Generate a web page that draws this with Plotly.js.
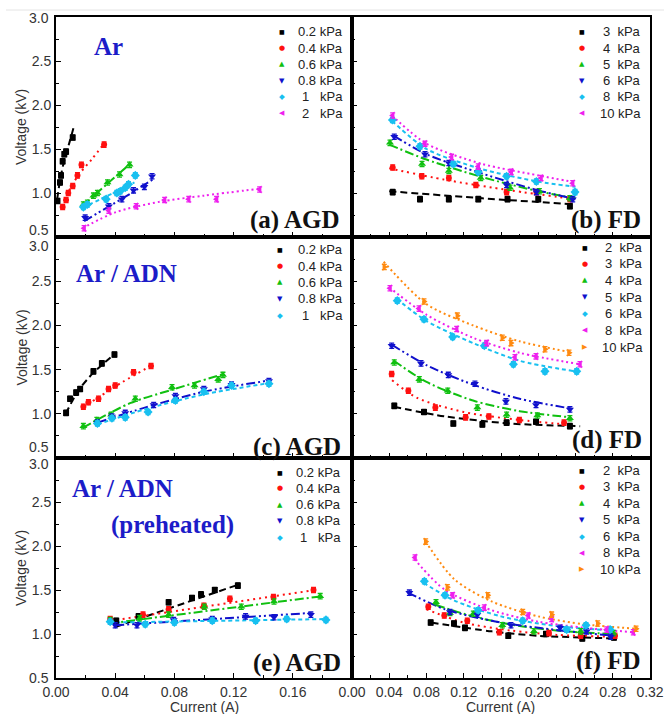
<!DOCTYPE html>
<html><head><meta charset="utf-8">
<script src="https://cdn.plot.ly/plotly-3.0.1.min.js"></script>
<style>html,body{margin:0;padding:0;background:#fff}#chart{width:664px;height:714px}</style>
</head><body><div id="chart"></div>
<script>
// ---------------- DATA ----------------
// (a) Ar, AGD
const aLabels = ['0.2 kPa','0.4 kPa','0.6 kPa','0.8 kPa','1   kPa','2   kPa'];
const aCurrent = [
  [0.001, 0.0027, 0.0034, 0.0045, 0.0056, 0.0068, 0.0113],
  [0.0045, 0.0068, 0.0083, 0.0113, 0.0145, 0.0172, 0.0325],
  [0.0185, 0.0212, 0.0253, 0.028, 0.0348, 0.0429, 0.0497],
  [0.0197, 0.0357, 0.0445, 0.0524, 0.0597, 0.0649],
  [0.0185, 0.0212, 0.0339, 0.0411, 0.0434, 0.0468, 0.049, 0.0536],
  [0.019, 0.0357, 0.0542, 0.0734, 0.0897, 0.1085, 0.1376]
];
const aVoltage = [
  [0.91, 1.12, 1.20, 1.36, 1.44, 1.47, 1.63],
  [0.84, 0.92, 1.00, 1.08, 1.20, 1.32, 1.55],
  [0.87, 0.89, 0.97, 1.00, 1.12, 1.21, 1.32],
  [0.72, 0.85, 0.93, 1.03, 1.07, 1.19],
  [0.84, 0.87, 0.93, 1.00, 1.02, 1.06, 1.10, 1.20],
  [0.60, 0.80, 0.85, 0.92, 0.93, 0.93, 1.04]
];
const aFitCurrent = [
  [0.0008, 0.003, 0.006, 0.009, 0.012],
  [0.004, 0.008, 0.015, 0.024, 0.032],
  [0.018, 0.025, 0.035, 0.05],
  [0.019, 0.035, 0.05, 0.066],
  [0.018, 0.03, 0.045, 0.053],
  [0.018, 0.04, 0.07, 0.1, 0.138]
];
const aFitVoltage = [
  [0.93, 1.17, 1.40, 1.57, 1.75],
  [0.84, 1.00, 1.20, 1.38, 1.55],
  [0.85, 0.96, 1.11, 1.33],
  [0.68, 0.84, 0.99, 1.16],
  [0.83, 0.93, 1.05, 1.12],
  [0.60, 0.78, 0.90, 0.97, 1.05]
];

// (b) Ar, FD
const bLabels = ['3  kPa','4  kPa','5  kPa','6  kPa','8  kPa','10 kPa'];
const bCurrent = [
  [0.0437, 0.073, 0.104, 0.1356, 0.167, 0.200, 0.234],
  [0.0437, 0.075, 0.104, 0.133, 0.166, 0.198, 0.234],
  [0.0408, 0.0752, 0.104, 0.1382, 0.1697, 0.2012, 0.234],
  [0.0454, 0.0784, 0.104, 0.1356, 0.166, 0.198, 0.237],
  [0.0434, 0.073, 0.1088, 0.1356, 0.166, 0.198, 0.2395],
  [0.0437, 0.0784, 0.107, 0.1356, 0.171, 0.203, 0.237]
];
const bVoltage = [
  [1.01, 0.93, 0.93, 0.93, 0.93, 0.93, 0.85],
  [1.29, 1.19, 1.17, 1.09, 1.01, 1.01, 0.93],
  [1.57, 1.33, 1.25, 1.17, 1.06, 1.02, 0.94],
  [1.64, 1.44, 1.34, 1.24, 1.09, 1.01, 0.93],
  [1.83, 1.53, 1.33, 1.24, 1.19, 1.13, 1.01],
  [1.88, 1.56, 1.41, 1.30, 1.24, 1.17, 1.11]
];
const bFitCurrent = [
  [0.04, 0.14, 0.24],
  [0.04, 0.10, 0.17, 0.24],
  [0.04, 0.08, 0.14, 0.20, 0.24],
  [0.045, 0.08, 0.14, 0.20, 0.24],
  [0.043, 0.08, 0.14, 0.20, 0.24],
  [0.043, 0.08, 0.14, 0.20, 0.24]
];
const bFitVoltage = [
  [1.02, 0.94, 0.87],
  [1.28, 1.15, 1.03, 0.93],
  [1.55, 1.38, 1.18, 1.02, 0.94],
  [1.65, 1.44, 1.22, 1.03, 0.93],
  [1.82, 1.50, 1.27, 1.13, 1.07],
  [1.88, 1.56, 1.33, 1.20, 1.12]
];

// (c) Ar / ADN, AGD
const cLabels = ['0.2 kPa','0.4 kPa','0.6 kPa','0.8 kPa','1   kPa'];
const cCurrent = [
  [0.0068, 0.0095, 0.0136, 0.0163, 0.0253, 0.031, 0.0395],
  [0.0185, 0.0219, 0.0287, 0.0355, 0.040, 0.0524, 0.0642],
  [0.0185, 0.0276, 0.0373, 0.0536, 0.0784, 0.0936, 0.1096, 0.1128],
  [0.028, 0.0378, 0.0468, 0.066, 0.0807, 0.0999, 0.1186, 0.1439],
  [0.028, 0.0378, 0.0468, 0.0622, 0.0807, 0.0999, 0.1186, 0.1439]
];
const cVoltage = [
  [1.01, 1.17, 1.24, 1.28, 1.48, 1.57, 1.67],
  [1.08, 1.13, 1.17, 1.28, 1.32, 1.47, 1.54],
  [0.86, 0.93, 0.99, 1.17, 1.30, 1.32, 1.39, 1.44],
  [0.90, 0.97, 1.01, 1.10, 1.20, 1.28, 1.33, 1.37],
  [0.89, 0.95, 0.96, 1.02, 1.15, 1.25, 1.32, 1.34]
];
const cFitCurrent = [
  [0.0065, 0.015, 0.025, 0.04],
  [0.018, 0.03, 0.045, 0.065],
  [0.018, 0.05, 0.08, 0.113],
  [0.028, 0.06, 0.10, 0.145],
  [0.028, 0.06, 0.10, 0.145]
];
const cFitVoltage = [
  [1.00, 1.26, 1.46, 1.68],
  [1.07, 1.20, 1.36, 1.55],
  [0.84, 1.12, 1.28, 1.45],
  [0.90, 1.07, 1.25, 1.38],
  [0.88, 1.05, 1.22, 1.35]
];

// (d) Ar / ADN, FD
const dLabels = ['2  kPa','3  kPa','4  kPa','5  kPa','6  kPa','8  kPa','10 kPa'];
const dCurrent = [
  [0.0454, 0.0773, 0.1088, 0.140, 0.166, 0.1976, 0.234],
  [0.0426, 0.0605, 0.0895, 0.122, 0.147, 0.1797, 0.2277],
  [0.0454, 0.0723, 0.1028, 0.1346, 0.166, 0.199, 0.234],
  [0.0426, 0.0741, 0.1034, 0.132, 0.1653, 0.1976, 0.234],
  [0.0486, 0.0773, 0.1081, 0.1421, 0.1733, 0.2072, 0.2413],
  [0.0408, 0.072, 0.1124, 0.1446, 0.175, 0.1976, 0.2448],
  [0.0347, 0.0773, 0.1131, 0.1614, 0.1707, 0.2072, 0.233]
];
const dVoltage = [
  [1.09, 1.02, 0.89, 0.88, 0.90, 0.91, 0.86],
  [1.45, 1.26, 1.07, 0.96, 0.97, 0.93, 0.90],
  [1.58, 1.39, 1.26, 1.07, 0.99, 0.98, 0.95],
  [1.77, 1.57, 1.44, 1.34, 1.14, 1.10, 1.05],
  [2.28, 2.07, 1.87, 1.77, 1.56, 1.48, 1.48],
  [2.42, 2.19, 1.96, 1.80, 1.64, 1.65, 1.56],
  [2.66, 2.27, 2.11, 1.86, 1.80, 1.73, 1.69]
];
const dFitCurrent = [
  [0.045, 0.10, 0.17, 0.245],
  [0.043, 0.07, 0.12, 0.18, 0.23],
  [0.045, 0.08, 0.13, 0.18, 0.235],
  [0.043, 0.08, 0.13, 0.18, 0.235],
  [0.048, 0.08, 0.13, 0.18, 0.24],
  [0.040, 0.08, 0.13, 0.18, 0.245],
  [0.034, 0.08, 0.13, 0.18, 0.233]
];
const dFitVoltage = [
  [1.08, 0.97, 0.89, 0.86],
  [1.38, 1.18, 1.02, 0.93, 0.88],
  [1.60, 1.36, 1.15, 1.03, 0.96],
  [1.78, 1.55, 1.33, 1.17, 1.06],
  [2.30, 2.05, 1.80, 1.60, 1.48],
  [2.43, 2.12, 1.86, 1.69, 1.56],
  [2.72, 2.24, 2.00, 1.82, 1.70]
];

// (e) Ar / ADN preheated, AGD
const eLabels = ['0.2 kPa','0.4 kPa','0.6 kPa','0.8 kPa','1   kPa'];
const eCurrent = [
  [0.0407, 0.0558, 0.0761, 0.0919, 0.098, 0.1073, 0.1229],
  [0.0366, 0.0588, 0.0761, 0.0999, 0.1175, 0.1469, 0.174],
  [0.0366, 0.0565, 0.0761, 0.1003, 0.1252, 0.1473, 0.1785],
  [0.040, 0.0547, 0.0795, 0.1056, 0.1281, 0.1473, 0.1722],
  [0.0366, 0.0603, 0.080, 0.1056, 0.1349, 0.1559, 0.1824]
];
const eVoltage = [
  [1.15, 1.20, 1.36, 1.41, 1.45, 1.50, 1.55],
  [1.17, 1.22, 1.28, 1.32, 1.40, 1.42, 1.50],
  [1.16, 1.18, 1.22, 1.31, 1.31, 1.37, 1.43],
  [1.10, 1.10, 1.16, 1.17, 1.20, 1.19, 1.22],
  [1.14, 1.11, 1.13, 1.15, 1.15, 1.17, 1.16]
];
const eFitCurrent = [
  [0.040, 0.123],
  [0.037, 0.175],
  [0.036, 0.180],
  [0.040, 0.173],
  [0.036, 0.183]
];
const eFitVoltage = [
  [1.08, 1.56],
  [1.15, 1.50],
  [1.12, 1.43],
  [1.10, 1.24],
  [1.13, 1.17]
];

// (f) Ar / ADN preheated, FD
const fLabels = ['2  kPa','3  kPa','4  kPa','5  kPa','6  kPa','8  kPa','10 kPa'];
const fCurrent = [
  [0.0845, 0.1095, 0.1213, 0.1678, 0.2083, 0.2473, 0.2813],
  [0.0819, 0.0991, 0.1238, 0.1582, 0.2115, 0.2456, 0.2824],
  [0.0902, 0.1052, 0.1303, 0.1614, 0.1954, 0.2456, 0.2806],
  [0.0616, 0.1052, 0.1346, 0.1707, 0.2234, 0.252, 0.2778],
  [0.0777, 0.0999, 0.1356, 0.1833, 0.2305, 0.2513, 0.2771],
  [0.0677, 0.1081, 0.1421, 0.1893, 0.2144, 0.2735, 0.3021],
  [0.0791, 0.1024, 0.1458, 0.1833, 0.2144, 0.2638, 0.305]
];
const fVoltage = [
  [1.13, 1.12, 1.07, 0.98, 1.00, 0.95, 0.96],
  [1.31, 1.21, 1.15, 1.02, 1.01, 0.98, 0.98],
  [1.36, 1.24, 1.23, 1.10, 1.03, 1.03, 1.01],
  [1.47, 1.25, 1.22, 1.10, 1.07, 1.03, 0.97],
  [1.60, 1.44, 1.27, 1.15, 1.05, 1.10, 1.05],
  [1.87, 1.44, 1.30, 1.21, 1.17, 1.05, 1.02],
  [2.05, 1.53, 1.44, 1.25, 1.22, 1.12, 1.06]
];
const fFitCurrent = [
  [0.085, 0.15, 0.20, 0.28],
  [0.080, 0.12, 0.17, 0.22, 0.28],
  [0.090, 0.13, 0.18, 0.23, 0.28],
  [0.060, 0.10, 0.15, 0.20, 0.28],
  [0.077, 0.11, 0.16, 0.22, 0.28],
  [0.067, 0.10, 0.15, 0.20, 0.25, 0.302],
  [0.079, 0.11, 0.15, 0.20, 0.25, 0.305]
];
const fFitVoltage = [
  [1.13, 1.03, 0.98, 0.95],
  [1.28, 1.13, 1.04, 0.99, 0.97],
  [1.33, 1.20, 1.09, 1.03, 1.00],
  [1.47, 1.28, 1.15, 1.07, 0.98],
  [1.58, 1.38, 1.20, 1.09, 1.04],
  [1.85, 1.50, 1.27, 1.14, 1.07, 1.02],
  [2.05, 1.62, 1.37, 1.20, 1.11, 1.06]
];

// axis tick values / labels
const leftCurrentTicks = [0, 0.04, 0.08, 0.12, 0.16];
const rightCurrentTicks = [0, 0.04, 0.08, 0.12, 0.16, 0.20, 0.24, 0.28, 0.32];
const voltageTicks = [1.0, 1.5, 2.0, 2.5];
const voltageEdgeLabels = ['3.0', '0.5'];
const xTitle = 'Current (A)';
const yTitle = 'Voltage (kV)';
const panelTags = ['(a) AGD', '(b) FD', '(c) AGD', '(d) FD', '(e) AGD', '(f) FD'];
const gasTexts = ['Ar', 'Ar / ADN', 'Ar / ADN', '(preheated)'];

// ---------------- STYLE ----------------
const colors  = ['#000000', '#ff1010', '#10c010', '#1010cc', '#18c0f0', '#ee20ee', '#ff8a10'];
const symbols = ['square', 'circle', 'triangle-up', 'triangle-down', 'diamond', 'triangle-left', 'triangle-right'];
const glyphs  = ['\u25A0', '\u25CF', '\u25B2', '\u25BC', '\u25C6', '\u25C0', '\u25B6'];
const glyphSizes = [6, 7, 7, 7, 7.5, 7, 7];
const dashes  = ['7px,4px', '2px,4px', '9px,3px,2px,3px', '9px,3px,2px,3px,2px,3px', '4px,3px', '2px,3px', '2px,3px'];
const sansFont = 'Liberation Sans, Arial, sans-serif';
const serifFont = 'Liberation Serif, Times New Roman, serif';

const W = 664, H = 714;
const PX = x => x / W, PY = y => 1 - y / H;

// panel geometry (pixels)
const panels = [
  {cur: aCurrent, volt: aVoltage, fx: aFitCurrent, fy: aFitVoltage, labels: aLabels, side: 'L', top: 17, bot: 237,
   leg: {gx: 282, tx: 345, y0: 32, dy: 16.2}, tag: [295, 220]},
  {cur: bCurrent, volt: bVoltage, fx: bFitCurrent, fy: bFitVoltage, labels: bLabels, side: 'R', top: 17, bot: 237,
   leg: {gx: 582, tx: 643, y0: 32, dy: 16.2}, tag: [606, 220]},
  {cur: cCurrent, volt: cVoltage, fx: cFitCurrent, fy: cFitVoltage, labels: cLabels, side: 'L', top: 237, bot: 458,
   leg: {gx: 280, tx: 345, y0: 250, dy: 16.25}, tag: [297, 447]},
  {cur: dCurrent, volt: dVoltage, fx: dFitCurrent, fy: dFitVoltage, labels: dLabels, side: 'R', top: 237, bot: 458,
   leg: {gx: 585, tx: 645, y0: 247, dy: 16.67}, tag: [607, 440]},
  {cur: eCurrent, volt: eVoltage, fx: eFitCurrent, fy: eFitVoltage, labels: eLabels, side: 'L', top: 458, bot: 678,
   leg: {gx: 280, tx: 343, y0: 472, dy: 16.25}, tag: [297, 663]},
  {cur: fCurrent, volt: fVoltage, fx: fFitCurrent, fy: fFitVoltage, labels: fLabels, side: 'R', top: 458, bot: 678,
   leg: {gx: 582, tx: 643, y0: 470, dy: 16.5}, tag: [608, 661]}
];

const lineTraces = [], markerTraces = [], annotations = [];
const layout = {
  width: W, height: H, margin: {l: 0, r: 0, t: 0, b: 0},
  paper_bgcolor: '#fff', plot_bgcolor: '#fff', showlegend: false,
  font: {family: sansFont, size: 14, color: '#222'},
  shapes: [{type: 'line', xref: 'paper', yref: 'paper', x0: PX(6), x1: 1, y0: PY(10), y1: PY(10),
            line: {color: '#e4e4e4', width: 1}}]
};

panels.forEach((p, k) => {
  const n = k + 1;
  const xa = n === 1 ? 'x' : 'x' + n, ya = n === 1 ? 'y' : 'y' + n;
  const left = p.side === 'L';
  const bottomRow = n >= 5;
  layout['xaxis' + (n === 1 ? '' : n)] = {
    domain: left ? [PX(56), PX(352)] : [PX(352), PX(650)],
    range: left ? [0, 0.2] : [0, 0.32],
    anchor: ya, showline: true, linewidth: 2, linecolor: '#000', mirror: true,
    showgrid: false, zeroline: false,
    tickmode: 'array', tickvals: left ? leftCurrentTicks : rightCurrentTicks,
    ticktext: (left ? leftCurrentTicks : rightCurrentTicks).map(v => v.toFixed(2)),
    ticks: 'inside', ticklen: 5, tickwidth: 1, tickcolor: '#000',
    minor: {tickmode: 'linear', tick0: 0, dtick: 0.02, ticks: 'inside', ticklen: 3, tickwidth: 1, tickcolor: '#000'},
    showticklabels: bottomRow, tickfont: {family: sansFont, size: 14, color: '#333'},
    automargin: false, fixedrange: true
  };
  layout['yaxis' + (n === 1 ? '' : n)] = {
    domain: [PY(p.bot), PY(p.top)], range: [0.5, 3.0], anchor: xa,
    showline: true, linewidth: 2, linecolor: '#000', mirror: true,
    showgrid: false, zeroline: false,
    tickmode: 'array', tickvals: voltageTicks, ticktext: voltageTicks.map(v => v.toFixed(1)),
    ticks: 'inside', ticklen: 5, tickwidth: 1, tickcolor: '#000',
    minor: {tickmode: 'linear', tick0: 0.5, dtick: 0.25, ticks: 'inside', ticklen: 3, tickwidth: 1, tickcolor: '#000'},
    showticklabels: left, tickfont: {family: sansFont, size: 14, color: '#333'},
    automargin: false, fixedrange: true
  };

  // axis titles placed as text
  if (left) {
    annotations.push({xref: 'paper', yref: 'paper', x: PX(21), y: PY((p.top + p.bot) / 2), text: yTitle,
      textangle: -90, showarrow: false, xanchor: 'center', yanchor: 'middle',
      font: {family: sansFont, size: 14, color: '#333'}});
  }
  if (bottomRow) {
    annotations.push({xref: 'paper', yref: 'paper', x: PX(left ? 204 : 501), y: PY(707), text: xTitle,
      showarrow: false, xanchor: 'center', yanchor: 'middle',
      font: {family: sansFont, size: 14, color: '#333'}});
  }

  p.cur.forEach((xs, i) => {
    lineTraces.push({
      x: p.fx[i], y: p.fy[i], xaxis: xa, yaxis: ya, type: 'scatter', mode: 'lines',
      line: {color: colors[i], width: 2, dash: dashes[i], shape: 'spline', smoothing: 0.8},
      hoverinfo: 'skip', showlegend: false
    });
    markerTraces.push({
      x: xs, y: p.volt[i], xaxis: xa, yaxis: ya, type: 'scatter', mode: 'markers',
      name: p.labels[i].replace(/\s+/g, ' '),
      marker: {symbol: symbols[i], size: (i === 0 || i === 1) ? 6 : 7, color: colors[i], line: {width: 0}},
      error_y: {type: 'constant', value: 0.03, color: colors[i], thickness: 1.3, width: 2.5},
      showlegend: false
    });
    // legend entry (glyph + label)
    const yy = PY(p.leg.y0 + i * p.leg.dy);
    annotations.push({xref: 'paper', yref: 'paper', x: PX(p.leg.gx), y: yy, text: glyphs[i],
      showarrow: false, xanchor: 'center', yanchor: 'middle',
      font: {family: 'DejaVu Sans', size: glyphSizes[i], color: colors[i]}});
    annotations.push({xref: 'paper', yref: 'paper', x: PX(p.leg.tx), y: yy,
      text: p.labels[i].replace(/ /g, '\u00a0'), showarrow: false, xanchor: 'right', yanchor: 'middle',
      font: {family: sansFont, size: 13, color: '#222'}});
  });

  // panel tag
  annotations.push({xref: 'paper', yref: 'paper', x: PX(p.tag[0]), y: PY(p.tag[1]), text: '<b>' + panelTags[k] + '</b>',
    showarrow: false, xanchor: 'center', yanchor: 'middle', font: {family: serifFont, size: 25, color: '#111'}});
});

// y edge labels (3.0 / 0.5) nudged away from the shared borders
[[18, 230], [246, 447], [464, 678]].forEach(pair => {
  pair.forEach((yy, j) => {
    annotations.push({xref: 'paper', yref: 'paper', x: PX(51), y: PY(yy), text: voltageEdgeLabels[j],
      showarrow: false, xanchor: 'right', yanchor: 'middle', font: {family: sansFont, size: 14, color: '#333'}});
  });
});

// gas composition labels
const gasPos = [[109, 47], [126, 273], [122, 488], [172, 525]];
gasTexts.forEach((t, j) => {
  annotations.push({xref: 'paper', yref: 'paper', x: PX(gasPos[j][0]), y: PY(gasPos[j][1]), text: '<b>' + t + '</b>',
    showarrow: false, xanchor: 'center', yanchor: 'middle', font: {family: serifFont, size: 25, color: '#1c1cc8'}});
});

layout.annotations = annotations;
Plotly.newPlot('chart', lineTraces.concat(markerTraces), layout, {staticPlot: true, displayModeBar: false});
</script>
</body></html>
